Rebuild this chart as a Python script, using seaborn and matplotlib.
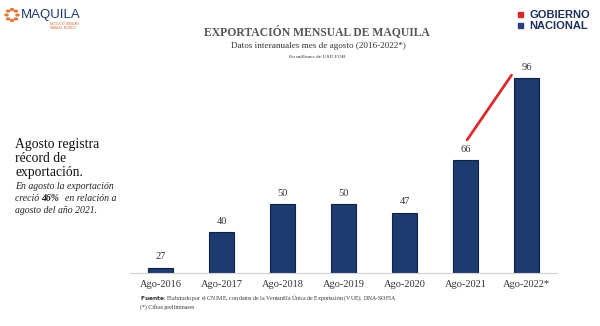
import matplotlib
matplotlib.use("Agg")
import matplotlib.pyplot as plt
from matplotlib.patches import Circle, Rectangle
import numpy as np
import pandas as pd
import seaborn as sns

# Exportación mensual de maquila, agosto de cada año (millones de USD FOB)
categories = ["Ago-2016", "Ago-2017", "Ago-2018", "Ago-2019", "Ago-2020", "Ago-2021", "Ago-2022*"]
values = [27, 40, 50, 50, 47, 66, 96]

df = pd.DataFrame({"periodo": categories, "valor": values})

sns.set_theme(style="white")
plt.rcParams["font.family"] = ["Liberation Serif", "DejaVu Serif"]

W, H = 600, 326
fig = plt.figure(figsize=(6.0, 3.26), dpi=100)
fig.patch.set_facecolor("white")


def fx(px):
    return px / W


def fy(py):
    return 1 - py / H


ax = fig.add_axes([fx(130), fy(273), fx(557) - fx(130), fy(60) - fy(273)])

bar_color = "#1d3b6e"
sns.barplot(data=df, x="periodo", y="valor", color=bar_color, width=0.4,
            saturation=1, edgecolor="#0e2147", linewidth=0.8, ax=ax)

ax.set_ylim(25, 102.5)
ax.set_xlim(-0.5, 6.5)
ax.set_xlabel("")
ax.set_ylabel("")
ax.set_yticks([])
for side in ["left", "right", "top"]:
    ax.spines[side].set_visible(False)
ax.spines["bottom"].set_color("#d4d4d4")
ax.spines["bottom"].set_linewidth(0.8)
ax.tick_params(axis="x", length=0, pad=5, labelsize=7.5, labelcolor="#333333")

# Etiquetas de valor sobre cada barra
for i, v in enumerate(values):
    ax.text(i, v + 2.2, f"{v}", ha="center", va="bottom", fontsize=7.5, color="#333333")

# Línea de crecimiento 2021 -> 2022
ax.annotate("", xy=(5.78, values[6] + 1.8), xytext=(5.0, values[5] + 6.6),
            arrowprops=dict(arrowstyle="-", color="#d92b2b", lw=2.0, capstyle="round"))

# Títulos
fig.text(fx(317), fy(32), "EXPORTACIÓN MENSUAL DE MAQUILA", ha="center", va="center",
         fontsize=8.4, fontweight="bold", color="#555555")
fig.text(fx(318), fy(46), "Datos interanuales mes de agosto (2016-2022*)", ha="center",
         va="center", fontsize=6.6, color="#333333")
fig.text(fx(317), fy(57), "En millones de USD FOB", ha="center", va="center",
         fontsize=3.9, color="#333333")

# Texto destacado a la izquierda
fig.text(fx(15), fy(138), "Agosto registra\nrécord de\nexportación.", ha="left", va="top",
         fontsize=9.8, color="#111111", linespacing=1.1)
it = dict(fontsize=7.0, style="italic", color="#222222")
fig.text(fx(15), fy(182), "En agosto la exportación", ha="left", va="top", **it)
t1 = fig.text(fx(15), fy(194), "creció ", ha="left", va="top", **it)
fig.canvas.draw()
bb = t1.get_window_extent()
t2 = fig.text(bb.x1 / W, fy(194), "46%", ha="left", va="top",
              fontweight="bold", **it)
fig.canvas.draw()
bb2 = t2.get_window_extent()
fig.text(bb2.x1 / W, fy(194), "  en relación a", ha="left", va="top", **it)
fig.text(fx(15), fy(206), "agosto del año 2021.", ha="left", va="top", **it)

# Fuente
fig.text(fx(140), fy(298), r"$\bf{Fuente}$: Elaborado por el CNIME, con datos de la Ventanilla Única de Exportación (VUE); DNA-SOFIA",
         ha="left", va="center", fontsize=4.2, color="#333333")
fig.text(fx(140), fy(307), "(*) Cifras preliminares", ha="left", va="center",
         fontsize=4.2, color="#333333")

# Logotipo MAQUILA
cx, cy, r = 12, 15, 5.5
for a in np.linspace(0, 2 * np.pi, 9)[:-1]:
    fig.patches.append(Circle((fx(cx + r * np.cos(a)), fy(cy + r * np.sin(a))), 1.6 / W,
                              transform=fig.transFigure, color="#e07b3c"))
fig.text(fx(21), fy(15), "MAQUILA", ha="left", va="center", fontsize=9.5,
         color="#1f3a6b", family=["Liberation Sans", "DejaVu Sans"])
fig.text(fx(50), fy(26), "NEGOCIO SIMILAR\nPARA EL MUNDO", ha="left", va="center",
         fontsize=2.3, color="#d96b3a", family=["Liberation Sans", "DejaVu Sans"],
         linespacing=1.0)

# Logotipo GOBIERNO NACIONAL
fig.patches.append(Rectangle((fx(518), fy(17)), 4.5 / W, 4.5 / H, transform=fig.transFigure,
                             color="#d42a2a"))
fig.patches.append(Rectangle((fx(518), fy(28)), 4.5 / W, 4.5 / H, transform=fig.transFigure,
                             color="#2b3f7a"))
logo = dict(fontsize=8, fontweight="bold", color="#1f2f5c",
            family=["Liberation Sans", "DejaVu Sans"])
fig.text(fx(529), fy(15), "GOBIERNO", ha="left", va="center", **logo)
fig.text(fx(529), fy(26), "NACIONAL", ha="left", va="center", **logo)

fig.savefig("out.png", dpi=100, facecolor="white")
